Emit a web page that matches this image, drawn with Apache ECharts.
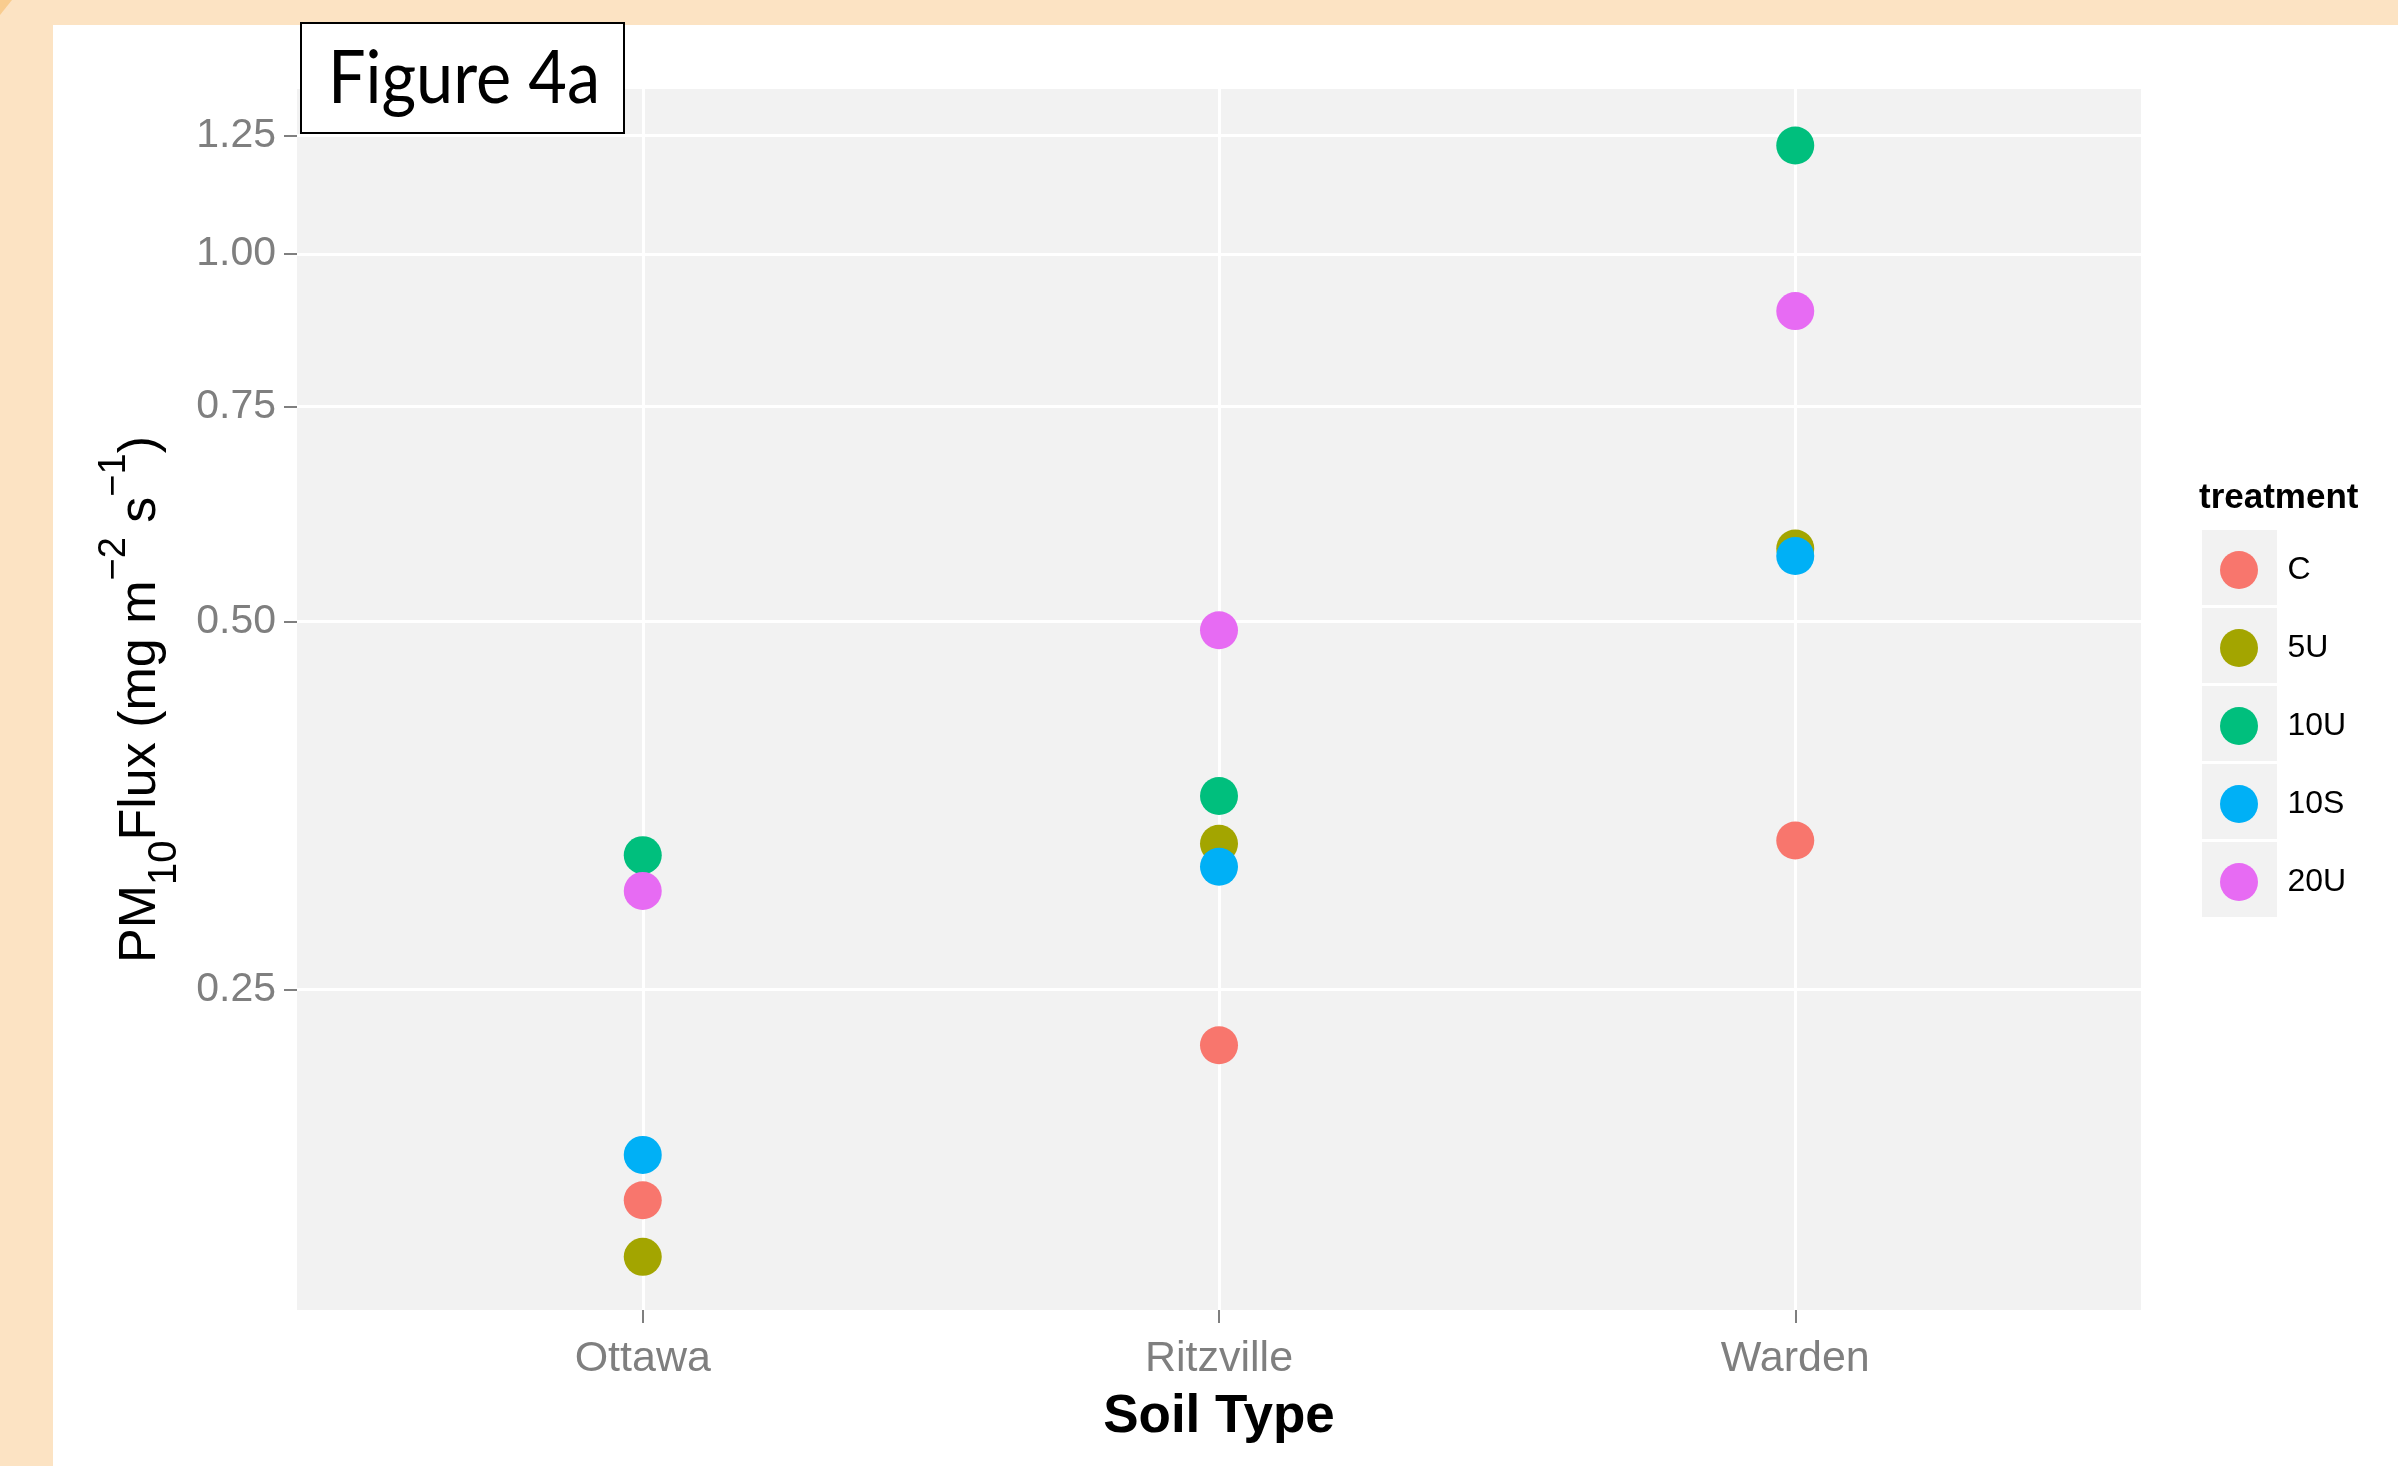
<!DOCTYPE html>
<html>
<head>
<meta charset="utf-8">
<title>Figure 4a - PM10 flux by soil type</title>
<script src="https://cdn.jsdelivr.net/npm/echarts@6/dist/echarts.min.js"></script>
<style>
  html, body { margin: 0; padding: 0; background: #ffffff; }
  #chart { width: 2398px; height: 1466px; }
</style>
</head>
<body>
<div id="chart"></div>
<script>
// Soil types on the x axis
const categories = ['Ottawa', 'Ritzville', 'Warden'];
// Treatments (legend order)
const treatments = ['C', '5U', '10U', '10S', '20U'];
// PM10 flux (mg m^-2 s^-1) per treatment, one value per soil type
const fluxC   = [0.168, 0.225, 0.331];
const flux5U  = [0.151, 0.329, 0.574];
const flux10U = [0.322, 0.360, 1.227];
const flux10S = [0.183, 0.315, 0.566];
const flux20U = [0.301, 0.492, 0.898];
// Y-axis breaks on the log scale
const yTicks = [0.25, 0.5, 0.75, 1.0, 1.25];

const palette = ['#F8766D', '#A3A500', '#00BF7D', '#00B0F6', '#E76BF3'];
const fluxByTreatment = [fluxC, flux5U, flux10U, flux10S, flux20U];
const catIndex = categories.map((c, i) => i);

const FONT = '"Liberation Sans", Arial, sans-serif';

const series = treatments.map((t, k) => ({
  name: t,
  type: 'scatter',
  symbol: 'circle',
  symbolSize: 38,
  itemStyle: { color: palette[k], opacity: 1 },
  emphasis: { disabled: true },
  data: fluxByTreatment[k].map((v, i) => [catIndex[i], v])
}));

const keyBoxes = treatments.map((t, k) => ({
  type: 'rect',
  shape: { x: 2202, y: 530 + 78 * k, width: 75, height: 75 },
  style: { fill: '#F2F2F2' },
  z: 1,
  silent: true
}));

const chart = echarts.init(document.getElementById('chart'), null, { renderer: 'canvas' });

chart.setOption({
  backgroundColor: '#ffffff',
  animation: false,
  textStyle: { fontFamily: FONT },
  grid: {
    left: 297, top: 89, right: 257, bottom: 156,
    show: true, backgroundColor: '#F2F2F2', borderWidth: 0,
    containLabel: false, outerBoundsMode: 'none'
  },
  xAxis: {
    type: 'value',
    min: -0.6, max: 2.6,
    name: 'Soil Type',
    nameLocation: 'middle',
    nameGap: 81,
    nameTextStyle: { fontFamily: FONT, fontSize: 53, fontWeight: 'bold', color: '#000000', lineHeight: 53 },
    axisLine: { show: false, onZero: false },
    axisTick: { show: true, length: 13, customValues: catIndex, lineStyle: { color: '#7F7F7F', width: 2 } },
    axisLabel: {
      customValues: catIndex,
      formatter: v => categories[Math.round(v)],
      margin: 28, fontFamily: FONT, fontSize: 43, color: '#7F7F7F', lineHeight: 43
    },
    splitLine: { show: true, lineStyle: { color: '#ffffff', width: 3 } },
    minorSplitLine: { show: false }
  },
  yAxis: {
    type: 'log',
    logBase: 10,
    min: 0.1366, max: 1.365,
    name: '{m|PM}{sub|10}{m|Flux (mg m}{sup|−2}{m| s}{sup|−1}{m|)}',
    nameLocation: 'middle',
    nameRotate: 90,
    nameGap: 91,
    nameTextStyle: {
      fontFamily: FONT, color: '#000000', fontSize: 52, lineHeight: 90,
      rich: {
        m:   { fontFamily: FONT, fontSize: 52, lineHeight: 90, color: '#000000' },
        sub: { fontFamily: FONT, fontSize: 40, lineHeight: 48, verticalAlign: 'bottom', color: '#000000' },
        sup: { fontFamily: FONT, fontSize: 38, lineHeight: 43, verticalAlign: 'top', color: '#000000' }
      }
    },
    axisLine: { show: false, onZero: false },
    axisTick: { show: true, length: 13, customValues: yTicks, lineStyle: { color: '#7F7F7F', width: 2 } },
    axisLabel: {
      customValues: yTicks,
      formatter: v => Number(v).toFixed(2),
      margin: 21, padding: [6, 0, 0, 0],
      fontFamily: FONT, fontSize: 41, color: '#7F7F7F'
    },
    splitLine: { show: true, lineStyle: { color: '#ffffff', width: 3 } },
    minorTick: { show: false },
    minorSplitLine: { show: false }
  },
  title: {
    text: 'treatment',
    left: 2199, top: 481,
    padding: 0,
    textStyle: { fontFamily: FONT, fontSize: 35, fontWeight: 'bold', color: '#000000', lineHeight: 35 }
  },
  legend: {
    orient: 'vertical',
    left: 2220, top: 551,
    padding: 0,
    itemWidth: 75, itemHeight: 38, itemGap: 40,
    icon: 'circle',
    selectedMode: false,
    data: treatments,
    textStyle: { fontFamily: FONT, fontSize: 32, color: '#000000', padding: [0, 0, 0, 6] }
  },
  graphic: [
    // slide frame: peach strips along the top and the left, with a darker corner
    { type: 'rect', shape: { x: 0, y: 0, width: 2398, height: 25 }, style: { fill: '#FCE3C3' }, silent: true, z: 1 },
    { type: 'rect', shape: { x: 0, y: 0, width: 53, height: 1466 }, style: { fill: '#FCE3C3' }, silent: true, z: 1 },
    { type: 'polygon', shape: { points: [[0, 0], [12, 0], [0, 15]] }, style: { fill: '#F9CC8E' }, silent: true, z: 2 },
    // legend key backgrounds
    ...keyBoxes,
    // figure label box
    { type: 'rect', shape: { x: 301, y: 23, width: 323, height: 110 },
      style: { fill: '#ffffff', stroke: '#000000', lineWidth: 2 }, z: 10, silent: true },
    { type: 'text', x: 464, y: 79, scaleX: 0.9, z: 11, silent: true,
      style: { text: 'Figure 4a', fontFamily: 'Lato, "Open Sans", sans-serif', fontSize: 74,
               fill: '#000000', align: 'center', verticalAlign: 'middle' } }
  ],
  series: series
});
</script>
</body>
</html>
